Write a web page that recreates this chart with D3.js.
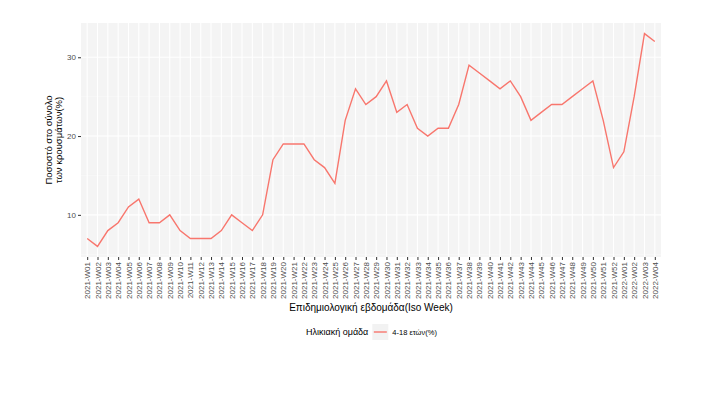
<!DOCTYPE html>
<html>
<head>
<meta charset="utf-8">
<script src="https://cdn.jsdelivr.net/npm/d3@7"></script>
<style>
  body { margin: 0; background: #fff; }
  text { font-family: "Liberation Sans", Arial, sans-serif; }
</style>
</head>
<body>
<div id="chart"></div>
<script>
// weeks (2021-W01 .. 2022-W04)
var weeks = [];
for (var i = 1; i <= 52; i++) weeks.push("2021-W" + (i < 10 ? "0" + i : i));
for (var j = 1; j <= 4; j++) weeks.push("2022-W0" + j);

// percent of total cases, age 4-18
var values = [7, 6, 8, 9, 11, 12, 9, 9, 10, 8, 7, 7, 7, 8, 10, 9, 8, 10, 17, 19,
              19, 19, 17, 16, 14, 22, 26, 24, 25, 27, 23, 24, 21, 20, 21, 21, 24, 29, 28, 27,
              26, 27, 25, 22, 23, 24, 24, 25, 26, 27, 22, 16, 18, 25, 33, 32];

var yTicks = [10, 20, 30];
var yMinor = [5, 15, 25];

var seriesName = "4-18 ετών(%)";
var legendTitle = "Ηλικιακή ομάδα";
var xTitle = "Επιδημιολογική εβδομάδα(Iso Week)";
var yTitle = ["Ποσοστό στο σύνολο", "των κρουσμάτων(%)"];

var W = 704, H = 397;
var margin = { top: 23, right: 43, bottom: 140, left: 81 },
    width = W - margin.left - margin.right,
    height = H - margin.top - margin.bottom;

var svg = d3.select("#chart")
    .append("svg")
    .attr("width", W)
    .attr("height", H);

var g = svg.append("g")
    .attr("transform", "translate(" + margin.left + "," + margin.top + ")");

var x = d3.scalePoint()
    .domain(weeks)
    .range([0, width])
    .padding(0.6);

var lo = d3.min(values), hi = d3.max(values), ex = (hi - lo) * 0.05;
var y = d3.scaleLinear()
    .domain([lo - ex, hi + ex])
    .range([height, 0]);

// panel
g.append("rect")
    .attr("width", width)
    .attr("height", height)
    .attr("fill", "#f4f4f4");

// minor grid
g.selectAll(".minor")
    .data(yMinor.filter(function (d) { return d >= y.domain()[0]; }))
    .enter().append("line")
    .attr("x1", 0).attr("x2", width)
    .attr("y1", function (d) { return y(d); })
    .attr("y2", function (d) { return y(d); })
    .attr("stroke", "#fafafa")
    .attr("stroke-width", 0.6);

// major grid
g.selectAll(".major")
    .data(yTicks)
    .enter().append("line")
    .attr("x1", 0).attr("x2", width)
    .attr("y1", function (d) { return y(d); })
    .attr("y2", function (d) { return y(d); })
    .attr("stroke", "#fff")
    .attr("stroke-width", 1.1);

g.selectAll(".vgrid")
    .data(weeks)
    .enter().append("line")
    .attr("x1", function (d) { return x(d); })
    .attr("x2", function (d) { return x(d); })
    .attr("y1", 0).attr("y2", height)
    .attr("stroke", "#fff")
    .attr("stroke-width", 1.1);

// line
var line = d3.line()
    .x(function (d, i) { return x(weeks[i]); })
    .y(function (d) { return y(d); });

g.append("path")
    .datum(values)
    .attr("fill", "none")
    .attr("stroke", "#F8766D")
    .attr("stroke-width", 1.4)
    .attr("d", line);

// axes
var yAxis = g.append("g")
    .call(d3.axisLeft(y).tickValues(yTicks).tickSize(3).tickPadding(2));
yAxis.select(".domain").remove();
yAxis.selectAll("line").attr("stroke", "#333");
yAxis.selectAll("text").attr("fill", "#4d4d4d").style("font-size", "8px");

var xAxis = g.append("g")
    .attr("transform", "translate(0," + height + ")")
    .call(d3.axisBottom(x).tickSize(3).tickPadding(2));
xAxis.select(".domain").remove();
xAxis.selectAll("line").attr("stroke", "#333");
xAxis.selectAll("text")
    .attr("fill", "#4d4d4d")
    .style("font-size", "8px")
    .attr("transform", "rotate(-90)")
    .attr("x", -5)
    .attr("y", 0)
    .attr("dy", "0.32em")
    .style("text-anchor", "end");

// titles
svg.append("text")
    .attr("x", margin.left + width / 2)
    .attr("y", 311)
    .attr("text-anchor", "middle")
    .style("font-size", "10px")
    .attr("fill", "#000")
    .text(xTitle);

var yt = svg.append("text")
    .attr("transform", "translate(" + 52 + "," + (margin.top + height / 2) + ") rotate(-90)")
    .attr("text-anchor", "middle")
    .style("font-size", "9.5px")
    .attr("fill", "#000");
yt.selectAll("tspan")
    .data(yTitle)
    .enter().append("tspan")
    .attr("x", 0)
    .attr("dy", function (d, i) { return i === 0 ? 0 : 10; })
    .text(function (d) { return d; });

// legend
var lg = svg.append("g").attr("transform", "translate(306,332)");
var lt = lg.append("text")
    .attr("x", 0).attr("y", 0).attr("dy", "0.35em")
    .style("font-size", "9px")
    .text(legendTitle);
var kx = lt.node().getComputedTextLength() + 4;
lg.append("rect")
    .attr("x", kx).attr("y", -8)
    .attr("width", 16).attr("height", 16)
    .attr("fill", "#f2f2f2");
lg.append("line")
    .attr("x1", kx + 1.5).attr("x2", kx + 14.5)
    .attr("y1", 0).attr("y2", 0)
    .attr("stroke", "#F8766D")
    .attr("stroke-width", 1.4);
lg.append("text")
    .attr("x", kx + 20).attr("y", 0).attr("dy", "0.35em")
    .style("font-size", "7.5px")
    .text(seriesName);
</script>
</body>
</html>
